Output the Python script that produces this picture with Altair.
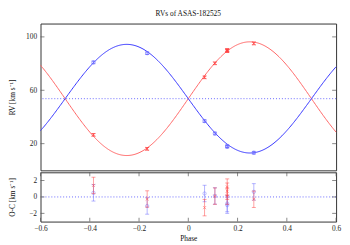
import altair as alt
import pandas as pd

TITLE = "RVs of ASAS-182525"
GAMMA = 53.7   # systemic velocity
K1 = 40.7      # primary semi-amplitude (blue)
K2 = 42.6      # secondary semi-amplitude (red)

p_phase = [-0.385, -0.167, 0.066, 0.108, 0.158, 0.158, 0.266]
p_rv = [80.9, 87.8, 36.9, 27.6, 18.0, 17.8, 13.2]
p_oc = [0.5, -1.1, 0.42, 0.12, -0.8, -1.0, 0.62]
p_err = [1.0, 1.0, 1.0, 1.0, 1.0, 1.0, 1.0]

s_phase = [-0.385, -0.167, 0.066, 0.108, 0.158, 0.158, 0.158, 0.266]
s_rv = [26.6, 16.1, 69.7, 80.2, 90.2, 89.8, 89.3, 95.1]
s_oc = [1.4, -0.25, -1.3, 0.1, 1.2, 0.7, 0.1, -0.28]
s_err = [1.0, 1.0, 1.0, 1.0, 1.0, 1.0, 1.0, 1.0]

x_ticks = [-0.6, -0.4, -0.2, 0, 0.2, 0.4, 0.6]
rv_ticks = [20, 60, 100]
oc_ticks = [-2, 0, 2]

RED_LINE = "#ff6464"
BLUE_LINE = "#3434ff"
RED_PT = "#ff4040"
BLUE_PT = "#6a6aff"
DOT = "#6a6aff"
FONT = "Liberation Serif"
TICK = "#555555"


def frame(phase, rv, oc, err):
    df = pd.DataFrame({"phase": phase, "rv": rv, "oc": oc, "err": err})
    df["lo"] = df.rv - df.err
    df["hi"] = df.rv + df.err
    df["oclo"] = df.oc - df.err
    df["ochi"] = df.oc + df.err
    return df


prim = frame(p_phase, p_rv, p_oc, p_err)
sec = frame(s_phase, s_rv, s_oc, s_err)

xscale = alt.Scale(domain=[-0.6, 0.6], nice=False, zero=False)
top_axis = alt.Axis(values=rv_ticks, title="RV [km s⁻¹]", labelPadding=4, labelOverlap=False,
                    minExtent=20, maxExtent=20, titlePadding=4)
oc_axis = alt.Axis(values=oc_ticks, title="O-C [km s⁻¹]", labelPadding=4, labelOverlap=False,
                   labelExpr="datum.value == 0 ? '0' : format(datum.value, 'd')",
                   minExtent=20, maxExtent=20, titlePadding=4)
x_axis = alt.Axis(values=x_ticks, title="Phase", labelPadding=3, titlePadding=3,
                  labelOverlap=False, labelFlush=False,
                  labelExpr="datum.value == 0 ? '0' : format(datum.value, '.1f')")


def xt(field):
    return alt.X(field, type="quantitative", scale=xscale, axis=None)


def xb(field):
    return alt.X(field, type="quantitative", scale=xscale, axis=x_axis)


def yt(field):
    return alt.Y(field, type="quantitative",
                 scale=alt.Scale(domain=[0, 110], nice=False, zero=False), axis=top_axis)


def yb(field):
    return alt.Y(field, type="quantitative",
                 scale=alt.Scale(domain=[-3, 3], nice=False, zero=False), axis=oc_axis)


curve = alt.Chart(alt.sequence(-0.6, 0.6001, 0.004, as_="phase")).transform_calculate(
    rv1=f"{GAMMA} - {K1} * sin(2 * PI * datum.phase)",
    rv2=f"{GAMMA} + {K2} * sin(2 * PI * datum.phase)",
)
red_curve = curve.mark_line(color=RED_LINE, strokeWidth=1).encode(x=xt("phase"), y=yt("rv2"))
blue_curve = curve.mark_line(color=BLUE_LINE, strokeWidth=1).encode(x=xt("phase"), y=yt("rv1"))
gamma_line = alt.Chart(pd.DataFrame({"g": [GAMMA]})).mark_rule(
    color=DOT, strokeDash=[1, 2], strokeWidth=1).encode(y=yt("g"))

cross = "M-1,-1L1,1M-1,1L1,-1"


def points(df, xf, yf, lo, hi, val, color, shape, opacity):
    base = alt.Chart(df)
    bar = base.mark_rule(color=color, strokeWidth=1, opacity=opacity).encode(
        x=xf("phase"), y=yf(lo), y2=alt.Y2(hi))
    cap1 = base.mark_tick(color=color, orient="horizontal", size=4, thickness=1,
                          opacity=opacity).encode(x=xf("phase"), y=yf(lo))
    cap2 = base.mark_tick(color=color, orient="horizontal", size=4, thickness=1,
                          opacity=opacity).encode(x=xf("phase"), y=yf(hi))
    pt = base.mark_point(color=color, shape=shape, size=11 if shape == "circle" else 10,
                         filled=False, strokeWidth=0.9, opacity=opacity).encode(
        x=xf("phase"), y=yf(val))
    return [bar, cap1, cap2, pt]


def yticks(values, yf, xf):
    d = alt.Chart(pd.DataFrame({"v": values}))
    left = d.mark_tick(color=TICK, orient="horizontal", size=4, thickness=1, xOffset=2).encode(
        x=alt.X("lx:Q", scale=xscale), y=yf("v")).transform_calculate(lx="-0.6")
    right = d.mark_tick(color=TICK, orient="horizontal", size=4, thickness=1, xOffset=-2).encode(
        x=alt.X("rx:Q", scale=xscale), y=yf("v")).transform_calculate(rx="0.6")
    return [left, right]


top = alt.layer(
    red_curve, blue_curve, gamma_line,
    *points(prim, xt, yt, "lo", "hi", "rv", BLUE_PT, "circle", 0.75),
    *points(sec, xt, yt, "lo", "hi", "rv", RED_PT, cross, 0.75),
    *yticks(rv_ticks, yt, xt),
).properties(width=300, height=149,
             title=alt.TitleParams(TITLE, fontSize=7.5, font=FONT, fontWeight="normal",
                                   offset=6, anchor="middle", color="#111"))

zero_line = alt.Chart(pd.DataFrame({"g": [0]})).mark_rule(
    color=DOT, strokeDash=[1, 2], strokeWidth=1).encode(y=yb("g"))
xtk = alt.Chart(pd.DataFrame({"v": x_ticks}))
xtick_bot = xtk.mark_tick(color=TICK, orient="vertical", size=4, thickness=1, yOffset=-2).encode(
    x=xb("v"), y=yb("by")).transform_calculate(by="-3")
xtick_top = xtk.mark_tick(color=TICK, orient="vertical", size=4, thickness=1, yOffset=2).encode(
    x=xb("v"), y=yb("ty")).transform_calculate(ty="3")

bottom = alt.layer(
    zero_line,
    *points(prim, xb, yb, "oclo", "ochi", "oc", BLUE_PT, "circle", 0.5),
    *points(sec, xb, yb, "oclo", "ochi", "oc", RED_PT, cross, 0.5),
    *yticks(oc_ticks, yb, xb),
    xtick_bot, xtick_top,
).properties(width=300, height=50)

chart = alt.vconcat(top, bottom, spacing=0).properties(padding=0).configure_view(
    stroke="#333333", strokeWidth=1
).configure_axis(
    domain=False, ticks=False, grid=False,
    labelFont=FONT, titleFont=FONT, labelFontSize=7.5, titleFontSize=7.5,
    titleFontWeight="normal", labelColor="#222222", titleColor="#111111",
)

chart.save("out.html", embed_options={"renderer": "svg", "actions": False})
